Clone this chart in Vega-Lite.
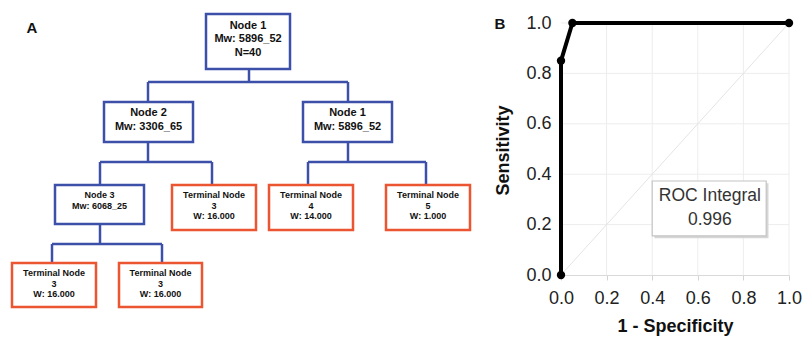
{
  "$schema": "https://vega.github.io/schema/vega-lite/v6.json",
  "padding": 0,
  "background": "white",
  "bounds": "flush",
  "spacing": 81,
  "config": {"view": {"stroke": null}, "font": "Liberation Sans"},
  "datasets": {
    "boxes": [
      {"id": "n1", "level": 0, "kind": "split", "x1": 206, "x2": 290, "y1": 14, "y2": 69, "cx": 248, "ty": 25.5, "label": "Node 1\nMw: 5896_52\nN=40"},
      {"id": "n2", "level": 1, "kind": "split", "x1": 104, "x2": 193, "y1": 102, "y2": 142, "cx": 148.5, "ty": 113, "label": "Node 2\nMw: 3306_65"},
      {"id": "n1b", "level": 1, "kind": "split", "x1": 303, "x2": 392, "y1": 102, "y2": 142, "cx": 347.5, "ty": 113, "label": "Node 1\nMw: 5896_52"},
      {"id": "n3", "level": 2, "kind": "split", "x1": 55, "x2": 144, "y1": 185, "y2": 224, "cx": 99.5, "ty": 195, "label": "Node 3\nMw: 6068_25"},
      {"id": "t3a", "level": 2, "kind": "terminal", "x1": 172, "x2": 256, "y1": 185, "y2": 230, "cx": 214, "ty": 195, "label": "Terminal Node\n3\nW: 16.000"},
      {"id": "t4", "level": 2, "kind": "terminal", "x1": 269, "x2": 353, "y1": 185, "y2": 230, "cx": 311, "ty": 195, "label": "Terminal Node\n4\nW: 14.000"},
      {"id": "t5", "level": 2, "kind": "terminal", "x1": 386, "x2": 470, "y1": 185, "y2": 230, "cx": 428, "ty": 195, "label": "Terminal Node\n5\nW: 1.000"},
      {"id": "t3b", "level": 3, "kind": "terminal", "x1": 12, "x2": 96, "y1": 263, "y2": 307, "cx": 54, "ty": 273, "label": "Terminal Node\n3\nW: 16.000"},
      {"id": "t3c", "level": 3, "kind": "terminal", "x1": 119, "x2": 202, "y1": 263, "y2": 307, "cx": 160.5, "ty": 273, "label": "Terminal Node\n3\nW: 16.000"}
    ],
    "links": [
      {"x": 249, "y": 69, "x2": 249, "y2": 82},
      {"x": 148, "y": 82, "x2": 348, "y2": 82},
      {"x": 148, "y": 82, "x2": 148, "y2": 102},
      {"x": 348, "y": 82, "x2": 348, "y2": 102},
      {"x": 148, "y": 142, "x2": 148, "y2": 162},
      {"x": 100, "y": 162, "x2": 212, "y2": 162},
      {"x": 100, "y": 162, "x2": 100, "y2": 185},
      {"x": 212, "y": 162, "x2": 212, "y2": 185},
      {"x": 348, "y": 142, "x2": 348, "y2": 162},
      {"x": 308, "y": 162, "x2": 426, "y2": 162},
      {"x": 308, "y": 162, "x2": 308, "y2": 185},
      {"x": 426, "y": 162, "x2": 426, "y2": 185},
      {"x": 100, "y": 224, "x2": 100, "y2": 244},
      {"x": 52, "y": 244, "x2": 162, "y2": 244},
      {"x": 52, "y": 244, "x2": 52, "y2": 263},
      {"x": 162, "y": 244, "x2": 162, "y2": 263}
    ],
    "letters": [
      {"x": 32, "y": 28, "t": "A"},
      {"x": 500, "y": 24, "t": "B"}
    ],
    "grid": [{"v": 0.2}, {"v": 0.4}, {"v": 0.6}, {"v": 0.8}, {"v": 1.0}],
    "roc": [
      {"step": 1, "fpr": 0, "tpr": 0},
      {"step": 2, "fpr": 0, "tpr": 0.85},
      {"step": 3, "fpr": 0.05, "tpr": 1},
      {"step": 4, "fpr": 1, "tpr": 1}
    ],
    "note": [{"line1": "ROC Integral", "line2": "0.996"}]
  },
  "hconcat": [
    {
      "width": 480,
      "height": 337,
      "layer": [
        {
          "data": {"name": "links"},
          "mark": {"type": "rule", "color": "#3c50aa", "strokeWidth": 2.5},
          "encoding": {
            "x": {"field": "x", "type": "quantitative", "scale": {"domain": [0, 480], "nice": false, "zero": false}, "axis": null},
            "y": {"field": "y", "type": "quantitative", "scale": {"domain": [0, 337], "nice": false, "zero": false, "reverse": true}, "axis": null},
            "x2": {"field": "x2"},
            "y2": {"field": "y2"}
          }
        },
        {
          "data": {"name": "boxes"},
          "mark": {"type": "rect", "fill": "white", "strokeWidth": 2.5},
          "encoding": {
            "x": {"field": "x1", "type": "quantitative", "axis": null},
            "x2": {"field": "x2"},
            "y": {"field": "y1", "type": "quantitative", "axis": null},
            "y2": {"field": "y2"},
            "stroke": {"field": "kind", "type": "nominal", "scale": {"domain": ["split", "terminal"], "range": ["#3c50aa", "#eb5532"]}, "legend": null}
          }
        },
        {
          "data": {"name": "boxes"},
          "transform": [{"filter": "datum.level <= 1"}],
          "mark": {"type": "text", "fontWeight": "bold", "fontSize": 11, "lineBreak": "\n", "lineHeight": 13.5, "baseline": "middle", "align": "center", "color": "#111"},
          "encoding": {
            "x": {"field": "cx", "type": "quantitative", "axis": null},
            "y": {"field": "ty", "type": "quantitative", "axis": null},
            "text": {"field": "label"}
          }
        },
        {
          "data": {"name": "boxes"},
          "transform": [{"filter": "datum.level >= 2"}],
          "mark": {"type": "text", "fontWeight": "bold", "fontSize": 9, "lineBreak": "\n", "lineHeight": 10.6, "baseline": "middle", "align": "center", "color": "#111"},
          "encoding": {
            "x": {"field": "cx", "type": "quantitative", "axis": null},
            "y": {"field": "ty", "type": "quantitative", "axis": null},
            "text": {"field": "label"}
          }
        },
        {
          "data": {"name": "letters"},
          "mark": {"type": "text", "fontWeight": "bold", "fontSize": 15, "baseline": "middle", "align": "center", "color": "#111"},
          "encoding": {
            "x": {"field": "x", "type": "quantitative", "axis": null},
            "y": {"field": "y", "type": "quantitative", "axis": null},
            "text": {"field": "t"}
          }
        }
      ]
    },
    {
      "width": 228,
      "height": 275,
      "layer": [
        {
          "data": {"name": "grid"},
          "mark": {"type": "rule", "color": "#ededed", "strokeWidth": 1},
          "encoding": {
            "x": {"field": "v", "type": "quantitative", "title": "1 - Specificity"},
            "y": {"datum": 0},
            "y2": {"datum": 1}
          }
        },
        {
          "data": {"name": "grid"},
          "mark": {"type": "rule", "color": "#ededed", "strokeWidth": 1},
          "encoding": {
            "y": {"field": "v", "type": "quantitative", "title": "Sensitivity"},
            "x": {"datum": 0},
            "x2": {"datum": 1}
          }
        },
        {
          "data": {"name": "note"},
          "mark": {"type": "rule", "color": "#e4e4e4", "strokeWidth": 1},
          "encoding": {
            "x": {"datum": 0},
            "y": {"datum": 0},
            "x2": {"datum": 1},
            "y2": {"datum": 1}
          }
        },
        {
          "data": {"name": "roc"},
          "mark": {"type": "line", "color": "black", "strokeWidth": 4, "point": {"filled": true, "size": 70, "color": "black"}},
          "encoding": {
            "x": {
              "field": "fpr", "type": "quantitative",
              "scale": {"domain": [0, 1], "nice": false, "zero": false},
              "title": "1 - Specificity",
              "axis": {
                "values": [0, 0.1, 0.2, 0.3, 0.4, 0.5, 0.6, 0.7, 0.8, 0.9, 1.0],
                "labelExpr": "round(datum.value*10) % 2 == 0 ? format(datum.value, '.1f') : ''",
                "grid": false,
                "domainColor": "#dadada",
                "tickColor": "#d4d4d4",
                "tickSize": 5,
                "labelFontSize": 18,
                "labelColor": "#222",
                "labelPadding": 9,
                "labelFlush": false,
                "titleFontSize": 18,
                "titleFontWeight": "bold",
                "titleColor": "#111",
                "titlePadding": 10
              }
            },
            "y": {
              "field": "tpr", "type": "quantitative",
              "scale": {"domain": [0, 1.0913], "nice": false, "zero": false},
              "title": "Sensitivity",
              "axis": {
                "values": [0, 0.2, 0.4, 0.6, 0.8, 1.0],
                "format": ".1f",
                "grid": false,
                "domain": false,
                "ticks": false,
                "labelFontSize": 18,
                "labelColor": "#222",
                "labelPadding": 10,
                "labelFlush": false,
                "titleFontSize": 18,
                "titleFontWeight": "bold",
                "titleColor": "#111",
                "titlePadding": 13,
                "titleY": 150
              }
            },
            "order": {"field": "step", "type": "quantitative"}
          }
        },
        {
          "data": {"name": "note"},
          "mark": {"type": "rect", "fill": "#d6d6d6"},
          "encoding": {
            "x": {"datum": 0.41},
            "x2": {"datum": 0.91},
            "y": {"datum": 0.146},
            "y2": {"datum": 0.364}
          }
        },
        {
          "data": {"name": "note"},
          "mark": {"type": "rect", "fill": "white", "stroke": "#c4c4c4", "strokeWidth": 1.2},
          "encoding": {
            "x": {"datum": 0.40},
            "x2": {"datum": 0.90},
            "y": {"datum": 0.155},
            "y2": {"datum": 0.373}
          }
        },
        {
          "data": {"name": "note"},
          "mark": {"type": "text", "fontSize": 17.5, "color": "#333", "align": "center", "baseline": "middle"},
          "encoding": {
            "x": {"datum": 0.653},
            "y": {"datum": 0.313},
            "text": {"field": "line1"}
          }
        },
        {
          "data": {"name": "note"},
          "mark": {"type": "text", "fontSize": 17.5, "color": "#333", "align": "center", "baseline": "middle"},
          "encoding": {
            "x": {"datum": 0.653},
            "y": {"datum": 0.218},
            "text": {"field": "line2"}
          }
        }
      ]
    }
  ]
}
